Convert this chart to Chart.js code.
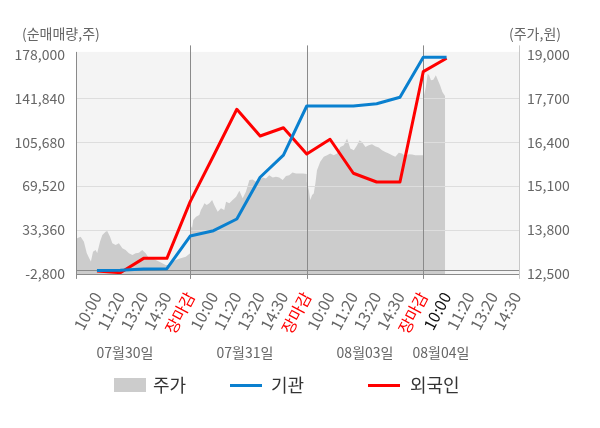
<!DOCTYPE html>
<html><head><meta charset="utf-8">
<script src="https://cdn.jsdelivr.net/npm/chart.js@4.4.0/dist/chart.umd.min.js"></script>
<style>html,body{margin:0;padding:0;background:#fff}#wrap{width:600px;height:428px;position:relative}</style>
</head><body><div id="wrap"><canvas id="c" width="600" height="428"></canvas></div>
<script>
// ---- data ----
const xLabels = ['10:00','11:20','13:20','14:30','장마감','10:00','11:20','13:20','14:30','장마감','10:00','11:20','13:20','14:30','장마감','10:00','11:20','13:20','14:30'];
const currentLabelIndex = 15;
const dateLabels = ['07월30일','07월31일','08월03일','08월04일'];
const dateLabelSlots = [1.2, 6.35, 11.5, 14.76];
const dayCloseSlots = [4, 9, 14];
const seriesNames = ['주가','기관','외국인'];
const institution = [100, 300, 1200, 1500, 28400, 32800, 42400, 76800, 95100, 135500, 135500, 135500, 137400, 142700, 175600, 175600];
const foreigner = [-400, -1800, 10000, 10000, 56700, 94500, 132800, 110800, 117600, 96000, 108100, 80100, 72900, 72900, 163800, 174800];
const priceSlots = [
 -0.9,-0.85,-0.70,-0.56,-0.44,-0.34,-0.26,-0.17,-0.06,0.01,0.13,0.23,0.37,0.44,0.56,0.66,0.80,0.94,1.09,1.23,1.37,1.52,1.66,1.80,1.94,2.09,2.23,2.37,2.52,2.66,2.80,2.95,3.09,3.23,3.38,3.59,3.81,4.00,
 4.00,4.08,4.13,4.25,4.39,4.46,4.54,4.61,4.71,4.82,4.94,5.03,5.18,5.32,5.46,5.54,5.68,5.82,5.97,6.11,6.25,6.39,6.54,6.68,6.82,6.97,7.11,7.25,7.39,7.54,7.68,7.82,7.97,8.11,8.25,8.39,8.54,8.68,8.83,9.00,
 9.00,9.09,9.15,9.23,9.30,9.37,9.44,9.58,9.73,9.87,10.01,10.16,10.30,10.44,10.59,10.73,10.87,11.02,11.16,11.26,11.37,11.52,11.66,11.80,11.94,12.09,12.23,12.37,12.52,12.66,12.80,12.95,13.09,13.23,13.38,13.52,13.66,14.00,
 14.00,14.05,14.11,14.19,14.25,14.33,14.43,14.54,14.62,14.72,14.82,14.91,14.94];
const prices = [
 13454,13555,13602,13454,13121,12973,12864,13159,13209,13121,13454,13652,13750,13771,13602,13407,13357,13407,13259,13209,13112,13061,13112,13129,13209,13112,12964,12964,12914,12864,12816,12766,12766,12864,12914,12964,13011,13112,
 13948,13859,14096,14193,14243,14391,14489,14589,14539,14589,14686,14539,14341,14441,14391,14636,14589,14686,14784,14961,14737,14932,15277,15298,15227,15277,15357,15328,15425,15357,15375,15357,15277,15396,15425,15505,15475,15475,15475,15455,
 15227,14982,14686,14834,14884,15180,15573,15818,15966,16016,16066,16016,16066,16261,16311,16509,16214,16164,16311,16459,16409,16261,16311,16341,16282,16243,16164,16113,16066,16016,15966,16084,16066,15986,16045,16036,16016,16016,
 17700,17848,18034,18430,18380,18232,18252,18380,18252,18084,17886,17789,17760];
const volumeTicks = [-2800, 33360, 69520, 105680, 141840, 178000];
const priceTicks = [12500, 13800, 15100, 16400, 17700, 19000];

// ---- style ----
const FONT = "'Noto Sans CJK KR','Noto Sans',sans-serif";
const C_AREA = '#cccccc', C_INST = '#0a80cf', C_FOR = '#ff0000';
const fmt = v => Number(v).toLocaleString('en-US');

const deco = {
  id: 'deco',
  beforeDraw(chart) {
    const {ctx, chartArea: a} = chart;
    ctx.save();
    ctx.fillStyle = '#f4f4f4';
    ctx.fillRect(a.left, a.top - 2.5, a.right - a.left, a.bottom - a.top + 2.5);
    ctx.restore();
  },
  afterDatasetDraw(chart, args) {
    if (args.index !== 0) return;
    const {ctx, chartArea: a, scales} = chart;
    const x = scales.x, yL = scales.yL;
    ctx.save();
    ctx.lineWidth = 1;
    ctx.strokeStyle = '#dddddd';
    volumeTicks.slice(1, -1).forEach(v => {
      const y = Math.round(yL.getPixelForValue(v)) + 0.5;
      ctx.beginPath(); ctx.moveTo(a.left, y); ctx.lineTo(a.right, y); ctx.stroke();
    });
    ctx.strokeStyle = '#8a8a8a';
    const y0 = Math.round(yL.getPixelForValue(0)) - 0.5;
    ctx.beginPath(); ctx.moveTo(a.left, y0); ctx.lineTo(a.right, y0); ctx.stroke();
    const yb = Math.round(a.bottom) + 0.5;
    ctx.beginPath(); ctx.moveTo(a.left, yb); ctx.lineTo(a.right, yb); ctx.stroke();
    dayCloseSlots.forEach(s => {
      const px = Math.round(x.getPixelForValue(s)) + 0.5;
      ctx.beginPath(); ctx.moveTo(px, a.top - 9); ctx.lineTo(px, a.bottom + 5); ctx.stroke();
    });
    const xl = Math.round(a.left) + 0.5;
    ctx.beginPath(); ctx.moveTo(xl, a.top - 2.5); ctx.lineTo(xl, a.bottom + 5); ctx.stroke();
    ctx.strokeStyle = '#c8c8c8';
    const xr = Math.round(a.right) - 0.5;
    ctx.beginPath(); ctx.moveTo(xr, a.top - 9); ctx.lineTo(xr, a.bottom + 5); ctx.stroke();
    ctx.restore();
  },
  afterDraw(chart) {
    const {ctx, scales} = chart;
    ctx.save();
    ctx.textBaseline = 'middle';
    ctx.fillStyle = '#666';
    ctx.font = '14px ' + FONT;
    ctx.textAlign = 'left';
    ctx.fillText('(순매매량,주)', 22, 33.5);
    ctx.fillText('(주가,원)', 509, 33.5);
    ctx.textAlign = 'center';
    dateLabels.forEach((t, i) => ctx.fillText(t, scales.x.getPixelForValue(dateLabelSlots[i]), 353));
    ctx.font = '18px ' + FONT;
    ctx.textAlign = 'left';
    const ly = 385.5;
    ctx.fillStyle = C_AREA; ctx.fillRect(114, 378, 32, 14);
    ctx.fillStyle = '#333'; ctx.fillText(seriesNames[0], 153, ly);
    ctx.strokeStyle = C_INST; ctx.lineWidth = 3;
    ctx.beginPath(); ctx.moveTo(230, ly); ctx.lineTo(262, ly); ctx.stroke();
    ctx.fillText(seriesNames[1], 271, ly);
    ctx.strokeStyle = C_FOR;
    ctx.beginPath(); ctx.moveTo(368, ly); ctx.lineTo(400, ly); ctx.stroke();
    ctx.fillText(seriesNames[2], 410, ly);
    ctx.restore();
  }
};

new Chart(document.getElementById('c'), {
  type: 'line',
  data: {
    datasets: [
      { label: seriesNames[0], yAxisID: 'yR', order: 3,
        data: priceSlots.map((s, i) => ({x: s, y: prices[i]})),
        fill: 'start', backgroundColor: C_AREA, borderWidth: 0, borderColor: 'rgba(0,0,0,0)', pointRadius: 0, tension: 0 },
      { label: seriesNames[1], yAxisID: 'yL', order: 1,
        data: institution.map((v, i) => ({x: i, y: v})),
        borderColor: C_INST, borderWidth: 3, pointRadius: 0, fill: false, tension: 0, borderJoinStyle: 'round' },
      { label: seriesNames[2], yAxisID: 'yL', order: 2,
        data: foreigner.map((v, i) => ({x: i, y: v})),
        borderColor: C_FOR, borderWidth: 3, pointRadius: 0, fill: false, tension: 0, borderJoinStyle: 'round' }
    ]
  },
  options: {
    responsive: false, animation: false, devicePixelRatio: 1,
    layout: { padding: { top: 54.4, left: 0, right: 0, bottom: 0 } },
    plugins: { legend: { display: false }, tooltip: { enabled: false } },
    scales: {
      x: {
        type: 'linear', min: -0.9, max: 18.15,
        afterBuildTicks: s => { s.ticks = xLabels.map((_, i) => ({ value: i })); },
        afterFit: s => { s.height = 428 - 273.9; },
        grid: { display: false }, border: { display: false },
        ticks: {
          autoSkip: false, maxRotation: 62, minRotation: 62, padding: 7,
          font: { size: 16, family: FONT },
          color: c => xLabels[c.index] === '장마감' ? '#ff0000' : (c.index === currentLabelIndex ? '#111' : '#666'),
          callback: v => xLabels[v] ?? ''
        }
      },
      yL: {
        position: 'left', min: volumeTicks[0], max: volumeTicks[volumeTicks.length - 1],
        afterBuildTicks: s => { s.ticks = volumeTicks.map(v => ({ value: v })); },
        afterFit: s => { s.width = 76; },
        grid: { display: false, drawTicks: false }, border: { display: false },
        ticks: { padding: 11, font: { size: 14, family: FONT }, color: '#666', callback: v => fmt(v) }
      },
      yR: {
        position: 'right', min: priceTicks[0], max: priceTicks[priceTicks.length - 1],
        afterBuildTicks: s => { s.ticks = priceTicks.map(v => ({ value: v })); },
        afterFit: s => { s.width = 80; },
        grid: { display: false, drawTicks: false }, border: { display: false },
        ticks: { padding: 7, font: { size: 14, family: FONT }, color: '#666', callback: v => fmt(v) }
      }
    }
  },
  plugins: [deco]
});
</script></body></html>
